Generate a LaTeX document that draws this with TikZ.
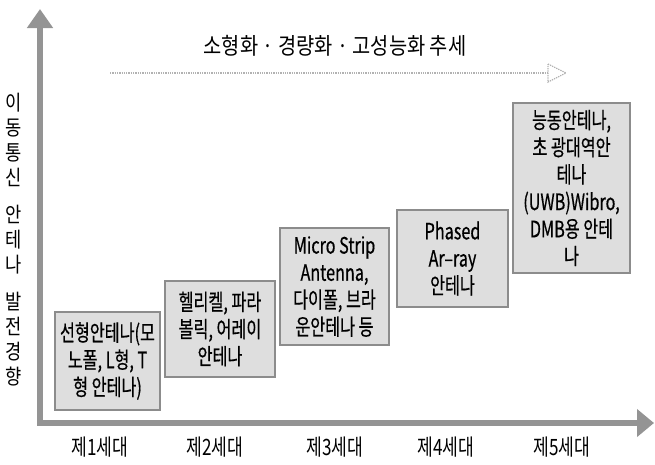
\documentclass[tikz,border=0pt]{standalone}
\usepackage{fontspec}
\newfontfamily\kr[FakeStretch=0.72,FakeBold=0.5]{Noto Sans CJK KR}
\newfontfamily\krt[FakeStretch=0.86]{Noto Sans CJK KR}
\newfontfamily\krl[FakeStretch=0.76]{Noto Sans CJK KR}
\newfontfamily\kry[FakeStretch=0.84]{Noto Sans CJK KR}
\usetikzlibrary{arrows.meta}
\definecolor{axisgray}{gray}{0.58}
\definecolor{boxfill}{gray}{0.87}
\definecolor{boxline}{gray}{0.55}
\definecolor{trendgray}{gray}{0.7}
\begin{document}
\begin{tikzpicture}[x=1pt,y=-1pt,
  gen/.style={draw=boxline, line width=1.6pt, fill=boxfill, align=center, inner sep=0pt,
    font=\kr\fontsize{22.5}{27.2}\selectfont, text=black},
  axisline/.style={draw=axisgray, line width=6pt, line join=miter},
  trendline/.style={draw=trendgray, line width=1.3pt, densely dotted},
  genlabel/.style={font=\krl\fontsize{22.5}{26}\selectfont, inner sep=0pt},
  ylabel/.style={font=\kry\fontsize{21}{25}\selectfont, align=center, inner sep=0pt},
  titlelabel/.style={font=\krt\fontsize{23}{26}\selectfont, inner sep=0pt}]
\useasboundingbox (0,0) rectangle (655,464);

% axes
\coordinate (ytip) at (40,9);
\coordinate (origin) at (40,423);
\coordinate (xtip) at (654,423);
\draw[axisline, {Triangle[width=25pt,length=19pt]}-{Triangle[width=27pt,length=17pt]}]
  (ytip) -- (origin) -- (xtip);

% trend arrow
\coordinate (ts) at (110,73);
\coordinate (te) at (548,73);
\coordinate (th1) at (548,64);
\coordinate (th2) at (566,73);
\coordinate (th3) at (548,82);
\draw[trendline] (ts) -- (te);
\draw[trendline] (th1) -- (th2) -- (th3) -- cycle;

\node[titlelabel] (title) at (335,46) {소형화 · 경량화 · 고성능화 추세};

% y label
\node[ylabel] (ylab) at (14,240) {이\\동\\통\\신\\[12pt]안\\테\\나\\[12pt]발\\전\\경\\향};

% generation boxes
\node[gen, minimum width=105pt, minimum height=98pt] (g1) at (107.5,361)
  {선형안테나(모\\노폴, L형, T\\형 안테나)};
\node[gen, minimum width=110pt, minimum height=96pt] (g2) at (220,329)
  {헬리켈, 파라\\볼릭, 어레이\\안테나};
\node[gen, minimum width=109pt, minimum height=117pt] (g3) at (334.5,286.5)
  {Micro Strip\\Antenna,\\다이폴, 브라\\운안테나 등};
\node[gen, minimum width=111pt, minimum height=97pt] (g4) at (452.5,258.5)
  {Phased\\Ar–ray\\안테나};
\node[gen, minimum width=117pt, minimum height=170pt] (g5) at (571.5,188)
  {능동안테나,\\초 광대역안\\테나\\(UWB)Wibro,\\DMB용 안테\\나};

% generation labels
\node[genlabel] (l1) at (100,447) {제1세대};
\node[genlabel] (l2) at (215,447) {제2세대};
\node[genlabel] (l3) at (335,447) {제3세대};
\node[genlabel] (l4) at (446,447) {제4세대};
\node[genlabel] (l5) at (562,447) {제5세대};
\end{tikzpicture}
\end{document}
